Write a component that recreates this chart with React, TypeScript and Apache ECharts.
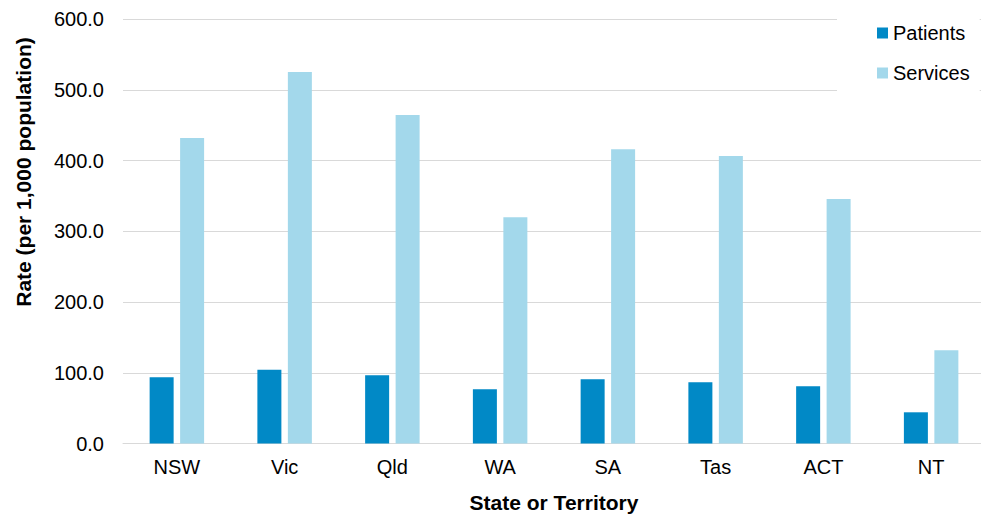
import React, { useEffect, useRef } from "react";
import * as echarts from "echarts";

const categories = ["NSW", "Vic", "Qld", "WA", "SA", "Tas", "ACT", "NT"];
const patients = [93.6, 104.3, 96.4, 76.6, 90.7, 86.5, 80.8, 44.1];
const services = [431.8, 525.0, 464.3, 319.7, 415.8, 406.4, 345.6, 131.7];
const seriesNames = ["Patients", "Services"];
const yTitle = "Rate (per 1,000 population)";
const xTitle = "State or Territory";

const FONT = "'Liberation Sans', Arial, sans-serif";

export default function App() {
  const ref = useRef<HTMLDivElement>(null);
  useEffect(() => {
    if (!ref.current) return;
    const chart = echarts.init(ref.current, null, { renderer: "svg" });
    chart.setOption({
      animation: false,
      backgroundColor: "#fff",
      textStyle: { fontFamily: FONT, color: "#000" },
      grid: {
        left: 123,
        right: -4,
        top: 19,
        bottom: 71.5,
        containLabel: false,
        outerBoundsMode: "none",
      },
      legend: {
        orient: "vertical",
        left: 837,
        top: 0,
        padding: [23, 10, 18, 40],
        backgroundColor: "#fff",
        itemGap: 20,
        itemWidth: 11,
        itemHeight: 11,
        icon: "rect",
        textStyle: { fontSize: 20, color: "#000", fontFamily: FONT },
        data: seriesNames,
        z: 10,
      },
      xAxis: {
        type: "category",
        data: categories,
        axisTick: { show: false },
        axisLine: { lineStyle: { color: "#d9d9d9", width: 1 } },
        axisLabel: { margin: 13, fontSize: 20, color: "#000", fontFamily: FONT },
        name: xTitle,
        nameLocation: "middle",
        nameGap: 48,
        nameTextStyle: { fontSize: 21, fontWeight: "bold", color: "#000", fontFamily: FONT },
      },
      yAxis: {
        type: "value",
        min: 0,
        max: 600,
        interval: 100,
        axisLine: { show: false },
        axisTick: { show: false },
        splitLine: { lineStyle: { color: "#d9d9d9", width: 1 } },
        axisLabel: {
          margin: 19,
          fontSize: 20,
          color: "#000",
          fontFamily: FONT,
          formatter: (v: number) => v.toFixed(1),
        },
      },
      graphic: [
        {
          type: "text",
          x: 23,
          y: 172,
          rotation: Math.PI / 2,
          style: {
            text: yTitle,
            fontSize: 21,
            fontWeight: "bold",
            fill: "#000",
            fontFamily: FONT,
            align: "center",
            verticalAlign: "middle",
          },
        },
      ],
      series: [
        {
          name: seriesNames[0],
          type: "bar",
          data: patients,
          barWidth: 24,
          barGap: "27%",
          itemStyle: { color: "#0189C6" },
        },
        {
          name: seriesNames[1],
          type: "bar",
          data: services,
          barWidth: 24,
          itemStyle: { color: "#A3D8EB" },
        },
      ],
    });
    return () => chart.dispose();
  }, []);
  return (
    <div
      ref={ref}
      style={{ position: "fixed", left: 0, top: 0, width: 981, height: 515 }}
    />
  );
}
